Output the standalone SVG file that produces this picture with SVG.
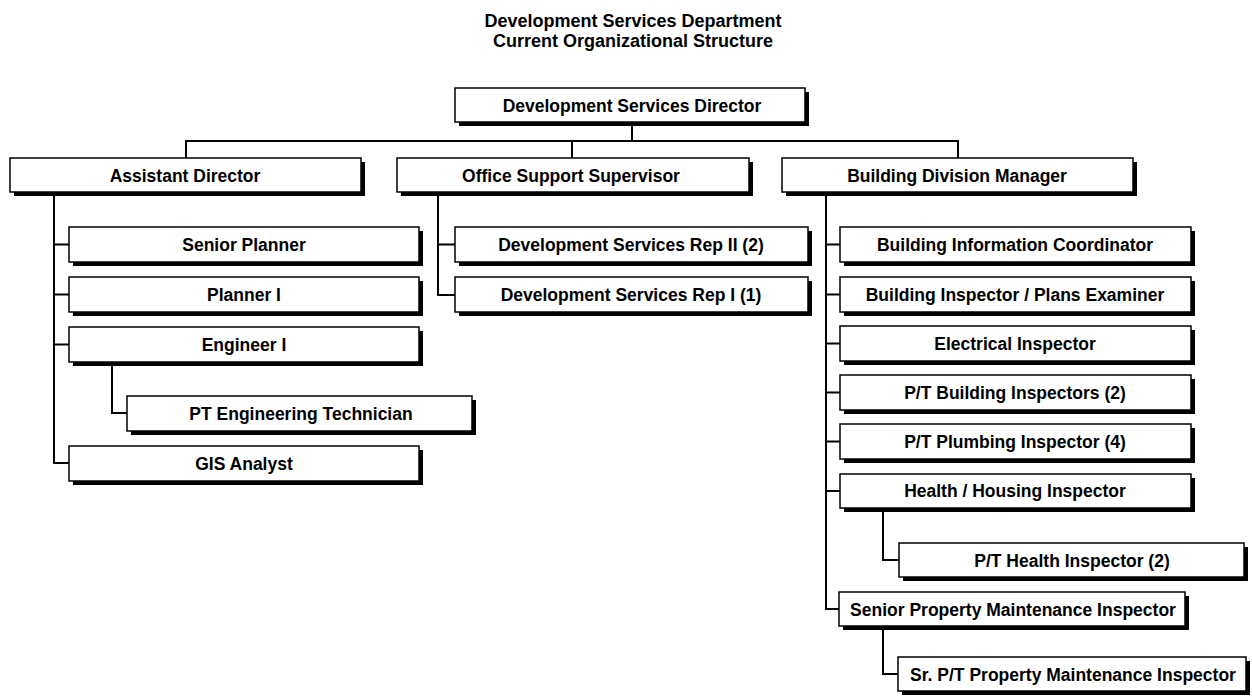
<svg xmlns="http://www.w3.org/2000/svg" width="1252" height="696" viewBox="0 0 1252 696">
  <style>
    .title { font-family: "Liberation Sans", Arial, sans-serif; font-weight: bold; font-size: 18px; fill: #000; text-anchor: middle; }
    .lbl { font-family: "Liberation Sans", Arial, sans-serif; font-weight: bold; font-size: 17.5px; fill: #000; text-anchor: middle; }
    .box { fill: #fff; stroke: #000; stroke-width: 1.5; }
    .shadow { fill: #000; }
    .conn { fill: none; stroke: #000; stroke-width: 2; }
  </style>
  <rect width="1252" height="696" fill="#fff"/>

  <!-- heading -->
  <g id="heading">
    <text class="title" x="633" y="27">Development Services Department</text>
    <text class="title" x="633" y="47">Current Organizational Structure</text>
  </g>

  <!-- reporting lines -->
  <g id="connectors">
    <path class="conn" d="M632 122 V141"/>
    <path class="conn" d="M186 158 V141 H958 V158" stroke-width="1.5"/>
    <path class="conn" d="M572 141 V158" stroke-width="1.5"/>
    <!-- Assistant Director branch -->
    <path class="conn" d="M54 192 V463 H69"/>
    <path class="conn" d="M54 244.5 H69"/>
    <path class="conn" d="M54 294.5 H69"/>
    <path class="conn" d="M54 344.5 H69"/>
    <path class="conn" d="M112 362 V413 H127"/>
    <!-- Office Support branch -->
    <path class="conn" d="M438 192 V295 H455"/>
    <path class="conn" d="M438 244.5 H455"/>
    <!-- Building Division branch -->
    <path class="conn" d="M826 192 V609 H839"/>
    <path class="conn" d="M826 244.5 H840"/>
    <path class="conn" d="M826 294.5 H840"/>
    <path class="conn" d="M826 343.5 H840"/>
    <path class="conn" d="M826 392.5 H840"/>
    <path class="conn" d="M826 441.5 H840"/>
    <path class="conn" d="M826 491 H840"/>
    <path class="conn" d="M883 508 V560 H899"/>
    <path class="conn" d="M883 626 V674 H898"/>
  </g>

  <g id="director">
    <rect class="shadow" x="459" y="92" width="350" height="34"/>
    <rect class="box" x="455" y="88" width="350" height="34"/>
    <text class="lbl" x="632" y="112">Development Services Director</text>
  </g>

  <g id="assistant-director">
    <rect class="shadow" x="14" y="162" width="351" height="34"/>
    <rect class="box" x="10" y="158" width="351" height="34"/>
    <text class="lbl" x="185" y="182">Assistant Director</text>
  </g>
  <g id="office-support-supervisor">
    <rect class="shadow" x="401" y="162" width="352" height="34"/>
    <rect class="box" x="397" y="158" width="352" height="34"/>
    <text class="lbl" x="571" y="182">Office Support Supervisor</text>
  </g>
  <g id="building-division-manager">
    <rect class="shadow" x="786" y="162" width="351" height="34"/>
    <rect class="box" x="782" y="158" width="351" height="34"/>
    <text class="lbl" x="957" y="182">Building Division Manager</text>
  </g>

  <g id="senior-planner">
    <rect class="shadow" x="73" y="231" width="350" height="35"/>
    <rect class="box" x="69" y="227" width="350" height="35"/>
    <text class="lbl" x="244" y="251">Senior Planner</text>
  </g>
  <g id="planner-i">
    <rect class="shadow" x="73" y="281" width="350" height="35"/>
    <rect class="box" x="69" y="277" width="350" height="35"/>
    <text class="lbl" x="244" y="301">Planner I</text>
  </g>
  <g id="engineer-i">
    <rect class="shadow" x="73" y="331" width="350" height="35"/>
    <rect class="box" x="69" y="327" width="350" height="35"/>
    <text class="lbl" x="244" y="351">Engineer I</text>
  </g>
  <g id="pt-engineering-technician">
    <rect class="shadow" x="131" y="400" width="345" height="35"/>
    <rect class="box" x="127" y="396" width="345" height="35"/>
    <text class="lbl" x="301" y="420">PT Engineering Technician</text>
  </g>
  <g id="gis-analyst">
    <rect class="shadow" x="73" y="450" width="350" height="35"/>
    <rect class="box" x="69" y="446" width="350" height="35"/>
    <text class="lbl" x="244" y="470">GIS Analyst</text>
  </g>

  <g id="dev-services-rep-ii">
    <rect class="shadow" x="459" y="231" width="353" height="35"/>
    <rect class="box" x="455" y="227" width="353" height="35"/>
    <text class="lbl" x="631" y="251">Development Services Rep II (2)</text>
  </g>
  <g id="dev-services-rep-i">
    <rect class="shadow" x="459" y="281" width="353" height="35"/>
    <rect class="box" x="455" y="277" width="353" height="35"/>
    <text class="lbl" x="631" y="301">Development Services Rep I (1)</text>
  </g>

  <g id="building-information-coordinator">
    <rect class="shadow" x="844" y="231" width="351" height="35"/>
    <rect class="box" x="840" y="227" width="351" height="35"/>
    <text class="lbl" x="1015" y="251">Building Information Coordinator</text>
  </g>
  <g id="building-inspector-plans-examiner">
    <rect class="shadow" x="844" y="281" width="351" height="35"/>
    <rect class="box" x="840" y="277" width="351" height="35"/>
    <text class="lbl" x="1015" y="301">Building Inspector / Plans Examiner</text>
  </g>
  <g id="electrical-inspector">
    <rect class="shadow" x="844" y="330" width="351" height="35"/>
    <rect class="box" x="840" y="326" width="351" height="35"/>
    <text class="lbl" x="1015" y="350">Electrical Inspector</text>
  </g>
  <g id="pt-building-inspectors">
    <rect class="shadow" x="844" y="379" width="351" height="35"/>
    <rect class="box" x="840" y="375" width="351" height="35"/>
    <text class="lbl" x="1015" y="399">P/T Building Inspectors (2)</text>
  </g>
  <g id="pt-plumbing-inspector">
    <rect class="shadow" x="844" y="428" width="351" height="35"/>
    <rect class="box" x="840" y="424" width="351" height="35"/>
    <text class="lbl" x="1015" y="448">P/T Plumbing Inspector (4)</text>
  </g>
  <g id="health-housing-inspector">
    <rect class="shadow" x="844" y="478" width="351" height="34"/>
    <rect class="box" x="840" y="474" width="351" height="34"/>
    <text class="lbl" x="1015" y="497">Health / Housing Inspector</text>
  </g>
  <g id="pt-health-inspector">
    <rect class="shadow" x="903" y="547" width="345" height="34"/>
    <rect class="box" x="899" y="543" width="345" height="34"/>
    <text class="lbl" x="1072" y="567">P/T Health Inspector (2)</text>
  </g>
  <g id="senior-property-maintenance-inspector">
    <rect class="shadow" x="843" y="596" width="346" height="34"/>
    <rect class="box" x="839" y="592" width="346" height="34"/>
    <text class="lbl" x="1013" y="616">Senior Property Maintenance Inspector</text>
  </g>
  <g id="sr-pt-property-maintenance-inspector">
    <rect class="shadow" x="902" y="661" width="348" height="34"/>
    <rect class="box" x="898" y="657" width="348" height="34"/>
    <text class="lbl" x="1073" y="681">Sr. P/T Property Maintenance Inspector</text>
  </g>
</svg>
